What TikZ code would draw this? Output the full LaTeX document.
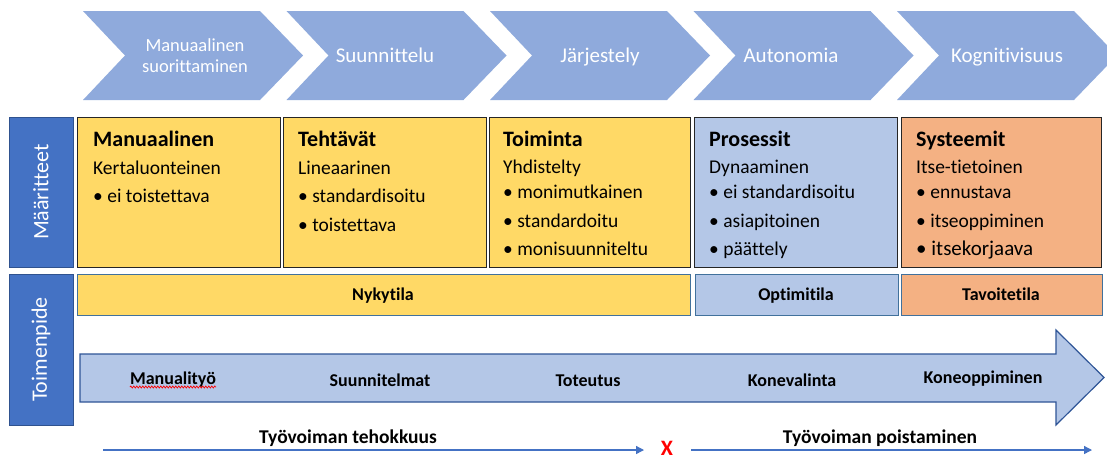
\documentclass[tikz,border=0pt]{standalone}
\usepackage{fontspec}
\setmainfont{Carlito}[Ligatures=NoCommon]
\usetikzlibrary{arrows.meta,decorations.pathmorphing}
\definecolor{chev}{HTML}{8FAADC}
\definecolor{tag}{HTML}{4472C4}
\definecolor{tagline}{HTML}{2F528F}
\definecolor{ylw}{HTML}{FFD966}
\definecolor{lblue}{HTML}{B4C7E7}
\definecolor{orng}{HTML}{F4B183}
\definecolor{rowline}{HTML}{41719C}
\definecolor{arrline}{HTML}{2F5597}
\newcommand{\fsz}[1]{\fontsize{#1}{#1}\selectfont}
\tikzset{
  chevtext/.style={text=white, font=\fsz{21}, anchor=base, inner sep=0},
  tagbox/.style={fill=tag, draw=tagline, line width=0.8pt, text=white,
    font=\fsz{22}, rotate=90, inner sep=0},
  cell/.style={draw=black!85, line width=1.3pt, anchor=north west,
    minimum width=203pt, minimum height=150pt, inner sep=0},
  head/.style={anchor=base west, font=\bfseries\fsz{22}, inner sep=0},
  body/.style={anchor=base west, font=\fsz{19.5}, inner sep=0},
  rowbox/.style={draw=rowline, line width=1pt, anchor=north west,
    minimum height=41pt, font=\bfseries\fsz{18}, inner sep=0},
  rowtext/.style={anchor=base, font=\bfseries\fsz{18}, inner sep=0},
  steplabel/.style={anchor=base, font=\bfseries\fsz{18}, inner sep=0},
  flow/.style={draw=tag, line width=1.3pt, -{Triangle[length=8pt,width=8pt]}},
  flowlabel/.style={anchor=base, font=\bfseries\fsz{19.5}, inner sep=0},
}
\begin{document}
\begin{tikzpicture}[x=1pt,y=-1pt]
\clip (0,0) rectangle (1107,459);
\fill[white] (0,0) rectangle (1107,459);

% process chevrons along the top
\foreach \i in {0,...,4}{
  \pgfmathsetmacro\x{83+203.5*\i}
  \fill[chev] (\x,11) -- (\x+177,11) -- (\x+220,55.5) -- (\x+177,100)
    -- (\x,100) -- (\x+42,55.5) -- cycle;
}
\node[chevtext, font=\fsz{18.5}] (c0a) at (195,51) {Manuaalinen};
\node[chevtext, font=\fsz{18.5}] (c0b) at (195,72) {suorittaminen};
\node[chevtext] (c1) at (385,62) {Suunnittelu};
\node[chevtext] (c2) at (600,62) {Järjestely};
\node[chevtext] (c3) at (791,62) {Autonomia};
\node[chevtext] (c4) at (1007,62) {Kognitivisuus};

% row tags
\node[tagbox, minimum width=150pt, minimum height=64pt] (maar) at (41,192) {Määritteet};
\node[tagbox, minimum width=151pt, minimum height=64pt] (toim) at (41,349.5) {Toimenpide};

% attribute cells
\node[cell, fill=ylw] (b1) at (77,117) {};
\node[cell, fill=ylw] (b2) at (283,117) {};
\node[cell, fill=ylw, minimum width=201pt] (b3) at (489,117) {};
\node[cell, fill=lblue] (b4) at (694,117) {};
\node[cell, fill=orng, minimum width=200pt] (b5) at (901,117) {};

\node[head] (t1) at (93,146) {Manuaalinen};
\node[body] (s1) at (93,174) {Kertaluonteinen};
\node[body] (p11) at (93,202) {\textbullet\ ei toistettava};

\node[head] (t2) at (298,146) {Tehtävät};
\node[body] (s2) at (298,174) {Lineaarinen};
\node[body] (p21) at (298,202) {\textbullet\ standardisoitu};
\node[body] (p22) at (298,231) {\textbullet\ toistettava};

\node[head] (t3) at (503,146) {Toiminta};
\node[body] (s3) at (503,173) {Yhdistelty};
\node[body] (p31) at (503,198) {\textbullet\ monimutkainen};
\node[body] (p32) at (503,227) {\textbullet\ standardoitu};
\node[body] (p33) at (503,255) {\textbullet\ monisuunniteltu};

\node[head] (t4) at (709,146) {Prosessit};
\node[body] (s4) at (709,173) {Dynaaminen};
\node[body] (p41) at (709,198) {\textbullet\ ei standardisoitu};
\node[body] (p42) at (709,227) {\textbullet\ asiapitoinen};
\node[body] (p43) at (709,255) {\textbullet\ päättely};

\node[head] (t5) at (916,146) {Systeemit};
\node[body] (s5) at (916,173) {Itse-tietoinen};
\node[body] (p51) at (916,198) {\textbullet\ ennustava};
\node[body] (p52) at (916,227) {\textbullet\ itseoppiminen};
\node[body, font=\fsz{21}] (p53) at (916,255) {\textbullet\ itsekorjaava};

% state row
\node[rowbox, fill=ylw, minimum width=613pt] (now) at (77,274) {};
\node[rowbox, fill=lblue, minimum width=203pt] (opt) at (695,274) {};
\node[rowbox, fill=orng, minimum width=201pt] (goal) at (901,274) {};
\node[rowtext] (nowt) at (383,300) {Nykytila};
\node[rowtext] (optt) at (796,300) {Optimitila};
\node[rowtext] (goalt) at (1001,300) {Tavoitetila};

% action arrow
\draw[fill=lblue, draw=arrline, line width=1.2pt]
  (80,354) -- (1056,354) -- (1056,330) -- (1104,377.5) -- (1056,425)
  -- (1056,402) -- (80,402) -- cycle;
\node[steplabel] (a1) at (173,384) {Manualityö};
\draw[red, line width=0.7pt, decorate,
  decoration={snake, amplitude=1pt, segment length=3pt}]
  ([yshift=-3pt]a1.base west) -- ([yshift=-3pt]a1.base east);
\node[steplabel] (a2) at (380,386) {Suunnitelmat};
\node[steplabel] (a3) at (588,386) {Toteutus};
\node[steplabel] (a4) at (792,386) {Konevalinta};
\node[steplabel] (a5) at (983,383) {Koneoppiminen};

% workforce flows
\coordinate (l0) at (103,450);
\coordinate (l1) at (644,450);
\coordinate (r0) at (691,450);
\coordinate (r1) at (1092,450);
\draw[flow] (l0) -- (l1);
\draw[flow] (r0) -- (r1);
\node[text=red, font=\bfseries\fsz{22}, inner sep=0] (xmark) at (667,448) {X};
\node[flowlabel] (f1) at (348,443) {Työvoiman tehokkuus};
\node[flowlabel] (f2) at (880,443) {Työvoiman poistaminen};
\end{tikzpicture}
\end{document}
